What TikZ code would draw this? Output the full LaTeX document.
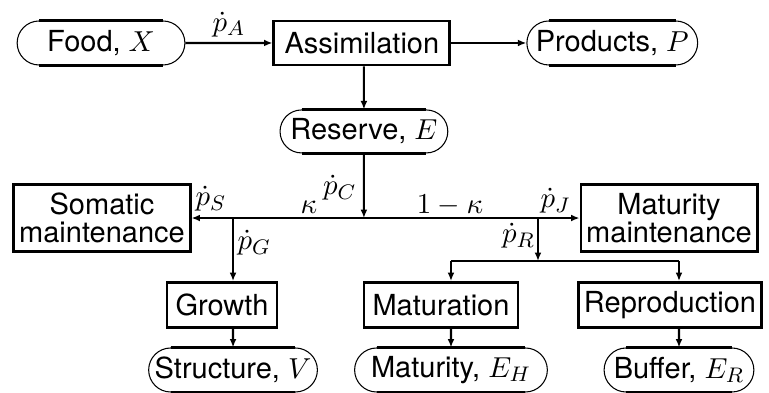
\documentclass[tikz,border=0pt]{standalone}
\usepackage{fontspec}
\setmainfont{TeX Gyre Heros}
\usepackage{tikz}
\usetikzlibrary{positioning,shapes.misc,arrows.meta}

\begin{document}
\begin{tikzpicture}[
      every node/.style={font=\fontsize{11}{12.5}\selectfont},
      box/.style={rectangle,draw,line width=1.1pt,minimum height=0.6cm,align=center,inner sep=2pt},
      pool/.style={rounded rectangle,draw,line width=0.4pt,minimum height=0.587cm,inner sep=1pt},
      flow/.style={-{Latex[length=3.2pt,width=2.6pt]},line width=0.8pt},
      rate/.style={inner sep=0pt}]
      \useasboundingbox (0,0) rectangle (10.253,-5.227);
      \node[pool,minimum width=2.307cm] (food) at (1.347,-0.573) {Food, $X$};
      \node[box,minimum width=2.347cm,minimum height=0.587cm,right=1.16cm of food] (assim) {Assimilation};
      \node[pool,minimum width=2.347cm,right=1.0cm of assim] (products) {Products, $P$};
      \node[pool,minimum width=2.307cm,minimum height=0.573cm,below=0.573cm of assim.south,anchor=north,xshift=0.027cm] (reserve) {Reserve, $E$};
      \node[box,minimum width=2.347cm,minimum height=0.893cm] (somatic) at (1.36,-2.907) {Somatic\\[-2pt]maintenance};
      \node[box,minimum width=2.347cm,minimum height=0.893cm] (matmaint) at (8.92,-2.907) {Maturity\\[-2pt]maintenance};
      \node[box,minimum width=1.467cm] (growth) at (2.96,-4.067) {Growth};
      \node[box,minimum width=2.053cm] (maturation) at (5.88,-4.067) {Maturation};
      \node[box,minimum width=2.373cm] (reproduction) at (8.933,-4.067) {Reproduction};
      \node[pool,minimum width=2.32cm] (structure) at (3.107,-4.933) {Structure, $V$};
      \node[pool,minimum width=2.64cm] (maturity) at (6.013,-4.933) {Maturity, $E_H$};
      \node[pool,minimum width=2.067cm] (buffer) at (9.053,-4.933) {Buffer, $E_R$};
      \foreach \p in {food,products,reserve,structure,maturity,buffer}
        \draw[line width=1.1pt] (\p.north west) -- (\p.north east) (\p.south west) -- (\p.south east);
      \coordinate (split) at (reserve.south |- somatic.east);
      \coordinate (gsplit) at (structure.north |- split);
      \coordinate (rsplit) at (7.173,-2.907);
      \coordinate (rfork) at (7.173,-3.48);
      \coordinate (mfork) at (maturity.north |- rfork);
      \coordinate (bfork) at (buffer.north |- rfork);
      \draw[flow] (food) -- node[above,inner sep=2pt] (pA) {$\dot p_A$} (assim);
      \draw[flow] (assim) -- (products);
      \draw[flow] (reserve.north |- assim.south) -- (reserve);
      \draw[flow] (reserve) -- (split);
      \draw[flow] (split) -- (somatic);
      \draw[flow] (split) -- (matmaint);
      \draw[flow] (gsplit) -- (gsplit |- growth.north);
      \draw[flow] (gsplit |- growth.south) -- (structure);
      \draw[flow] (rsplit) -- (rfork);
      \draw[line width=0.8pt] (mfork) -- (bfork);
      \draw[flow] (mfork) -- (mfork |- maturation.north);
      \draw[flow] (bfork) -- (bfork |- reproduction.north);
      \draw[flow] (mfork |- maturation.south) -- (maturity);
      \draw[flow] (bfork |- reproduction.south) -- (buffer);
      \node[rate,anchor=east] (pC) at (4.76,-2.507) {$\dot p_C$};
      \node[rate] (kappa) at (4.12,-2.76) {$\kappa$};
      \node[rate,anchor=west] (pS) at (2.6,-2.653) {$\dot p_S$};
      \node[rate,anchor=west] (pG) at (3.16,-3.24) {$\dot p_G$};
      \node[rate] (omk) at (6.0,-2.733) {$1-\kappa$};
      \node[rate,anchor=west] (pJ) at (7.2,-2.68) {$\dot p_J$};
      \node[rate,anchor=east] (pR) at (7.14,-3.147) {$\dot p_R$};
    \end{tikzpicture}
\end{document}
